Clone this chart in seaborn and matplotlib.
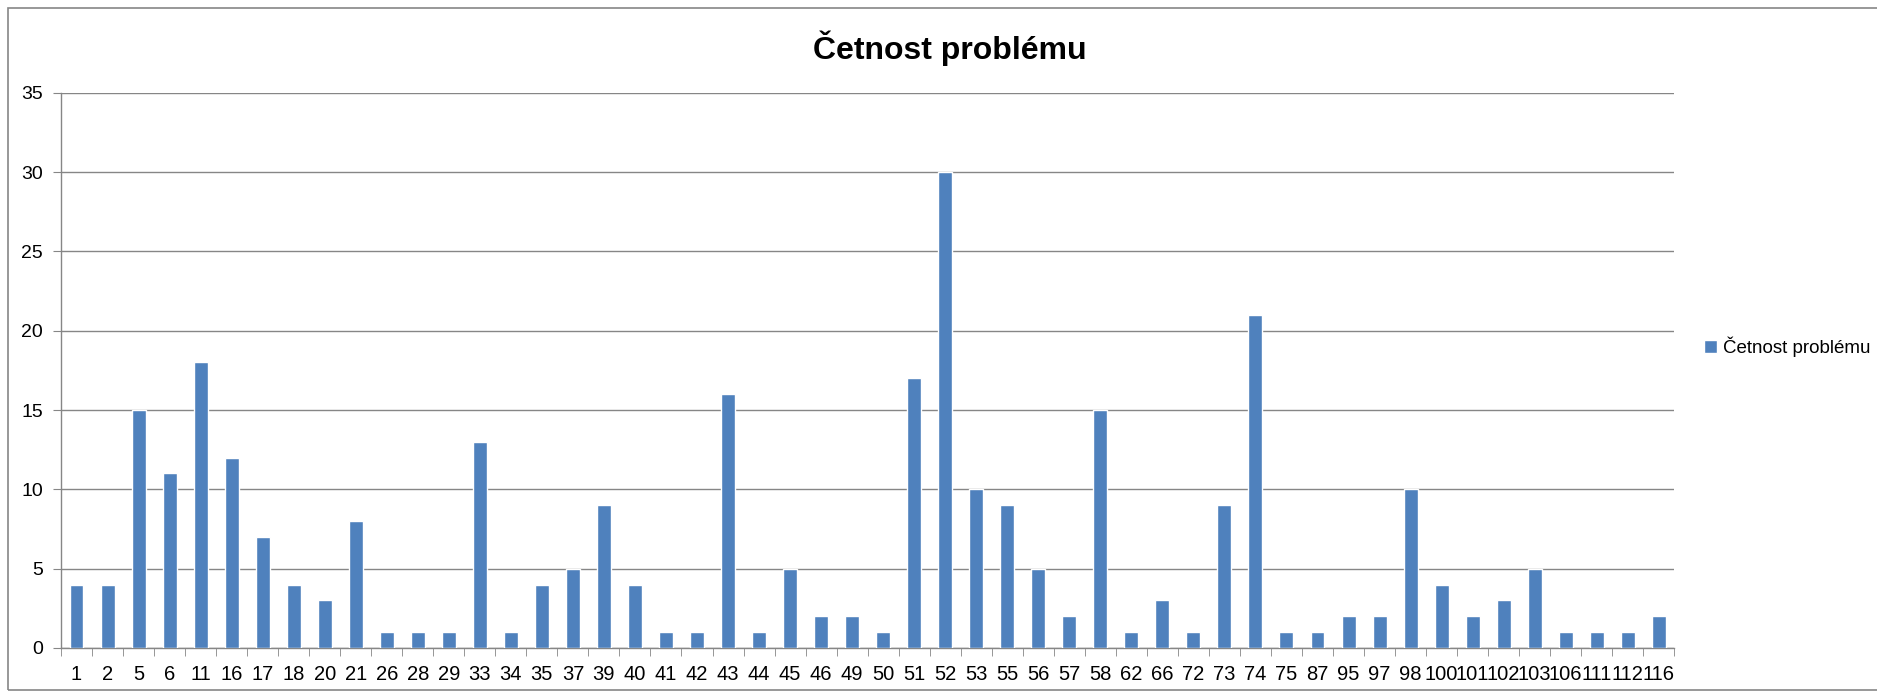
import numpy as np
import pandas as pd
import seaborn as sns
import matplotlib.pyplot as plt
from matplotlib.patches import Rectangle

# problem ids and how often each occurred
problemy = ["1", "2", "5", "6", "11", "16", "17", "18", "20", "21", "26", "28", "29",
            "33", "34", "35", "37", "39", "40", "41", "42", "43", "44", "45", "46", "49",
            "50", "51", "52", "53", "55", "56", "57", "58", "62", "66", "72", "73", "74",
            "75", "87", "95", "97", "98", "100", "101", "102", "103", "106", "111", "112", "116"]
cetnost = [4, 4, 15, 11, 18, 12, 7, 4, 3, 8, 1, 1, 1,
           13, 1, 4, 5, 9, 4, 1, 1, 16, 1, 5, 2, 2,
           1, 17, 30, 10, 9, 5, 2, 15, 1, 3, 1, 9, 21,
           1, 1, 2, 2, 10, 4, 2, 3, 5, 1, 1, 1, 2]
y_ticks = [0, 5, 10, 15, 20, 25, 30, 35]

df = pd.DataFrame({"problem": problemy, "cetnost": cetnost})

sns.set_style("white")
plt.rcParams['font.family'] = ['Liberation Sans Narrow', 'Liberation Sans', 'DejaVu Sans']

fig = plt.figure(figsize=(18.77, 6.93), dpi=100)
ax = fig.add_axes([0.0325, 0.065, 0.8595, 0.801])

sns.barplot(data=df, x="problem", y="cetnost", order=problemy, color="#4F81BD",
            saturation=1, width=0.45, label="Četnost problému", ax=ax, zorder=3)

ax.set_ylim(0, 35)
ax.set_yticks(y_ticks)
ax.set_xlim(-0.5, len(problemy) - 0.5)
ax.yaxis.grid(True, color="#868686", linewidth=1, zorder=0)
ax.set_xlabel("")
ax.set_ylabel("")

# Excel style: tick marks between the categories
ax.set_xticks(np.arange(-0.5, len(problemy), 1), minor=True)
ax.tick_params(axis="x", which="major", length=0, pad=12, labelsize=14.5, labelcolor="black")
ax.tick_params(axis="x", which="minor", length=6, color="#868686", direction="out", bottom=True)
ax.tick_params(axis="y", length=6, color="#868686", direction="out", left=True,
               labelsize=14, pad=7, labelcolor="black")

for s in ["top", "right"]:
    ax.spines[s].set_visible(False)
for s in ["left", "bottom"]:
    ax.spines[s].set_color("#868686")
    ax.spines[s].set_linewidth(1)

fig.text(0.506, 0.93, "Četnost problému", ha="center", va="center",
         fontsize=23, fontweight="bold", color="black")

ax.legend(loc="center left", bbox_to_anchor=(0.899, 0.5), bbox_transform=fig.transFigure,
          frameon=False, fontsize=13.5, handlelength=0.7, handleheight=0.7,
          handletextpad=0.3, labelcolor="black")

fig.patches.append(Rectangle((0.0045, 0.005), 1.0, 0.983, transform=fig.transFigure,
                             fill=False, edgecolor="#868686", linewidth=1.2))

fig.savefig("out.png", dpi=100)
